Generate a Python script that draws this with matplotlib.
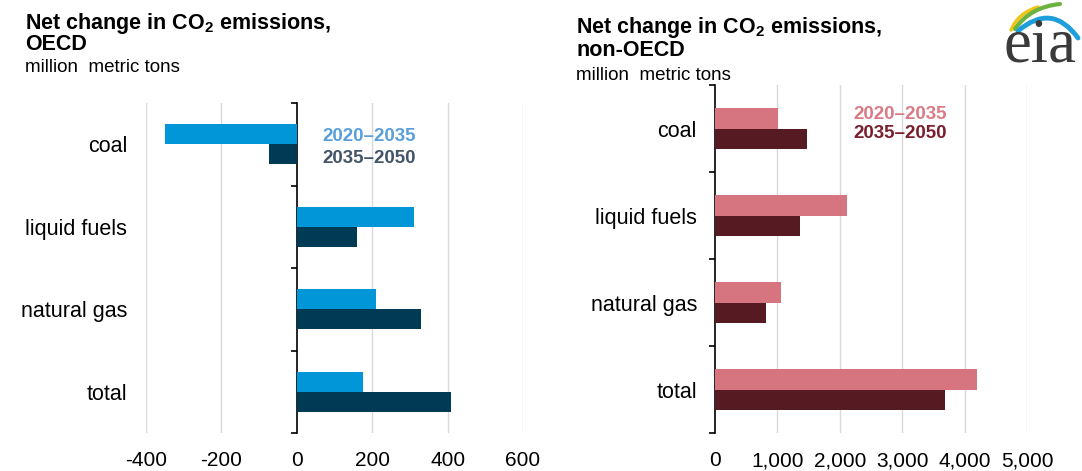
import matplotlib
matplotlib.use("Agg")
import matplotlib.pyplot as plt
import numpy as np
from matplotlib.path import Path
from matplotlib.patches import PathPatch

plt.rcParams['font.family'] = ['Liberation Sans', 'DejaVu Sans']
plt.rcParams['mathtext.fontset'] = 'custom'
plt.rcParams['mathtext.rm'] = 'Liberation Sans'
plt.rcParams['mathtext.bf'] = 'Liberation Sans:bold'

categories = ["coal", "liquid fuels", "natural gas", "total"]
periods = ["2020\u20132035", "2035\u20132050"]

oecd_2020_2035 = [-350, 310, 210, 175]
oecd_2035_2050 = [-75, 160, 330, 410]

non_oecd_2020_2035 = [1010, 2120, 1050, 4200]
non_oecd_2035_2050 = [1470, 1360, 820, 3680]

oecd_ticks = [-400, -200, 0, 200, 400, 600]
non_oecd_ticks = [0, 1000, 2000, 3000, 4000, 5000]

W, H = 1082, 471
fig = plt.figure(figsize=(W / 100, H / 100), dpi=100)

ax1 = fig.add_axes([146 / W, 38 / H, 377 / W, 330 / H])
ax2 = fig.add_axes([715 / W, 38 / H, 312 / W, 348 / H])

bh = 0.24
y = np.arange(len(categories))


def style(ax, ticks, xlim, pad_pt, fmt):
    ax.set_xlim(*xlim)
    ax.set_ylim(len(categories) - 0.5, -0.5)
    ax.set_xticks(ticks)
    ax.set_xticklabels([fmt(t) for t in ticks], fontsize=15, color='#000000')
    ax.tick_params(axis='x', length=0, pad=13)
    for t in ticks:
        if t != 0:
            ax.axvline(t, color='#D9D9D9', lw=1, zorder=0)
    for s in ['top', 'right', 'bottom']:
        ax.spines[s].set_visible(False)
    ax.spines['left'].set_position(('data', 0))
    ax.spines['left'].set_color('#000000')
    ax.spines['left'].set_linewidth(1.2)
    ax.set_yticks(y)
    ax.set_yticklabels(categories, fontsize=15.5)
    ax.tick_params(axis='y', which='major', length=0, pad=pad_pt)
    ax.set_yticks(np.arange(-0.5, len(categories) + 0.5, 1), minor=True)
    ax.tick_params(axis='y', which='minor', length=4, width=1.2, direction='out', color='#000000')


ax1.barh(y - bh / 2, oecd_2020_2035, height=bh, color='#0096D7', zorder=3)
ax1.barh(y + bh / 2, oecd_2035_2050, height=bh, color='#003A54', zorder=3)
style(ax1, oecd_ticks, (-400, 600), 122, lambda t: f"{t}")

ax2.barh(y - bh / 2, non_oecd_2020_2035, height=bh, color='#D67580', zorder=3)
ax2.barh(y + bh / 2, non_oecd_2035_2050, height=bh, color='#561A22', zorder=3)
style(ax2, non_oecd_ticks, (0, 5000), 13, lambda t: f"{t:,}")

# legends
ax1.text(0.468, 0.898, periods[0], transform=ax1.transAxes, fontsize=13.5,
         fontweight='bold', color='#5A9FDC', va='center', ha='left')
ax1.text(0.468, 0.833, periods[1], transform=ax1.transAxes, fontsize=13.5,
         fontweight='bold', color='#44546A', va='center', ha='left')
ax2.text(0.442, 0.914, periods[0], transform=ax2.transAxes, fontsize=13.5,
         fontweight='bold', color='#DB7A87', va='center', ha='left')
ax2.text(0.442, 0.862, periods[1], transform=ax2.transAxes, fontsize=13.5,
         fontweight='bold', color='#7A1F2E', va='center', ha='left')

# titles
def title(x, y1, y2, y3, line2):
    fig.text(x / W, 1 - y1 / H, r"Net change in CO$_\mathbf{2}$ emissions,", fontsize=15.5,
             fontweight='bold', va='baseline', ha='left')
    fig.text(x / W, 1 - y2 / H, line2, fontsize=15.5, fontweight='bold', va='baseline', ha='left')
    fig.text(x / W, 1 - y3 / H, "million  metric tons", fontsize=13.5, va='baseline', ha='left')

title(25, 28.5, 50, 72.5, "OECD")
title(576, 33.5, 56, 80, "non-OECD")

# eia logo
fig.text(1004 / W, 1 - 62 / H, "eia", fontsize=45, family='Liberation Serif',
         color='#3A3A3A', va='baseline', ha='left')


def swoosh(pts, color, lw):
    verts = [(px / W, 1 - py / H) for px, py in pts]
    codes = [Path.MOVETO, Path.CURVE3, Path.CURVE3]
    p = PathPatch(Path(verts, codes), transform=fig.transFigure, fill=False,
                  edgecolor=color, lw=lw, capstyle='round')
    fig.add_artist(p)

swoosh([(1011, 30), (1018, 13), (1038, 7)], '#F2C417', 2.5)
swoosh([(1015, 29), (1030, 7), (1060, 4)], '#6DB33F', 3)
swoosh([(1018, 31), (1052, 2), (1078, 38)], '#1E9FDB', 3.5)

fig.savefig("out.png", dpi=100)
